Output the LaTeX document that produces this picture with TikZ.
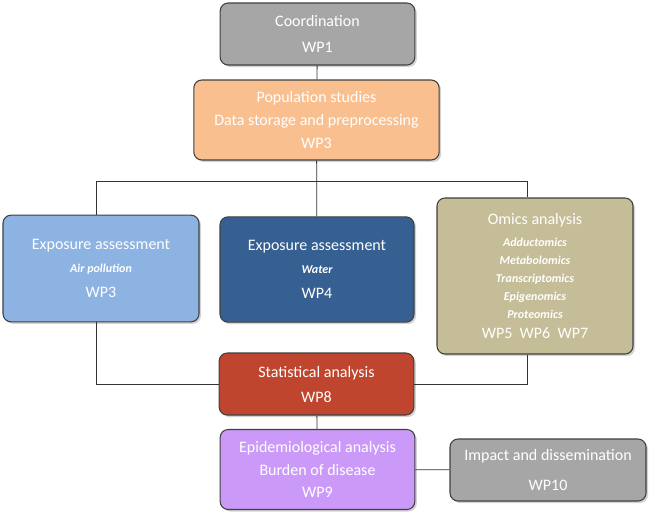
\documentclass[tikz,border=0pt]{standalone}
\usepackage{fontspec}
\setmainfont{Carlito}
\usetikzlibrary{shadows}

\definecolor{coordgray}{HTML}{A6A6A6}
\definecolor{popfill}{HTML}{F9BF8F}
\definecolor{airfill}{HTML}{8DB3E2}
\definecolor{waterfill}{HTML}{366092}
\definecolor{omicsfill}{HTML}{C4BD97}
\definecolor{statfill}{HTML}{C0452F}
\definecolor{epifill}{HTML}{CB9AF9}

\newcommand{\wptopic}[1]{{\fontsize{9}{13.5}\selectfont\bfseries\itshape #1}}

\begin{document}
\begin{tikzpicture}[
  x=0.75pt,y=-0.75pt,
  wpbox/.style={draw=black!75,line width=0.8pt,rounded corners=6pt,inner sep=0pt,
    text=white,align=center,font=\fontsize{12}{17}\selectfont,
    drop shadow={opacity=0.35,shadow xshift=1.5pt,shadow yshift=-1.5pt}},
  link/.style={draw=black!80,line width=0.6pt}
]
  \useasboundingbox (0,0) rectangle (656,519);

  \node[wpbox,fill=coordgray,minimum width=146pt,minimum height=46.5pt] (coord) at (317.5,34)
    {Coordination\\[3pt]WP1};
  \node[wpbox,fill=popfill,minimum width=184pt,minimum height=60pt] (pop) at (316.5,120)
    {Population studies\\Data storage and preprocessing\\WP3};
  \node[wpbox,fill=airfill,minimum width=147pt,minimum height=80pt] (air) at (101,268.5)
    {Exposure assessment\\\wptopic{Air pollution}\\[1.75pt]WP3};
  \node[wpbox,fill=waterfill,minimum width=145.5pt,minimum height=79pt] (water) at (317,269.5)
    {Exposure assessment\\\wptopic{Water}\\[1.75pt]WP4};
  \node[wpbox,fill=omicsfill,minimum width=147pt,minimum height=117pt] (omics) at (535,276)
    {Omics analysis\\
     \wptopic{Adductomics}\\[-3.5pt]
     \wptopic{Metabolomics}\\[-3.5pt]
     \wptopic{Transcriptomics}\\[-3.5pt]
     \wptopic{Epigenomics}\\[-3.5pt]
     \wptopic{Proteomics}\\[-2pt]
     WP5~~WP6~~WP7};
  \node[wpbox,fill=statfill,minimum width=146pt,minimum height=46.5pt] (stat) at (316.5,384)
    {Statistical analysis\\[1.75pt]WP8};
  \node[wpbox,fill=epifill,minimum width=146pt,minimum height=60pt] (epi) at (317.5,469.5)
    {Epidemiological analysis\\Burden of disease\\WP9};
  \node[wpbox,fill=coordgray,minimum width=147pt,minimum height=46.5pt] (impact) at (548,470)
    {Impact and dissemination\\[6pt]WP10};

  \coordinate (busL) at (96,181);
  \coordinate (busR) at (527,181);

  \draw[link] (coord) -- (pop);
  \draw[link] (pop) -- (water);
  \draw[link] (busL |- air.north) -- (busL) -- (busR) -- (busR |- omics.north);
  \draw[link] (busL |- air.south) |- (stat.west);
  \draw[link] (busR |- omics.south) |- (stat.east);
  \draw[link] (stat) -- (epi);
  \draw[link] (epi) -- (impact);
\end{tikzpicture}
\end{document}
